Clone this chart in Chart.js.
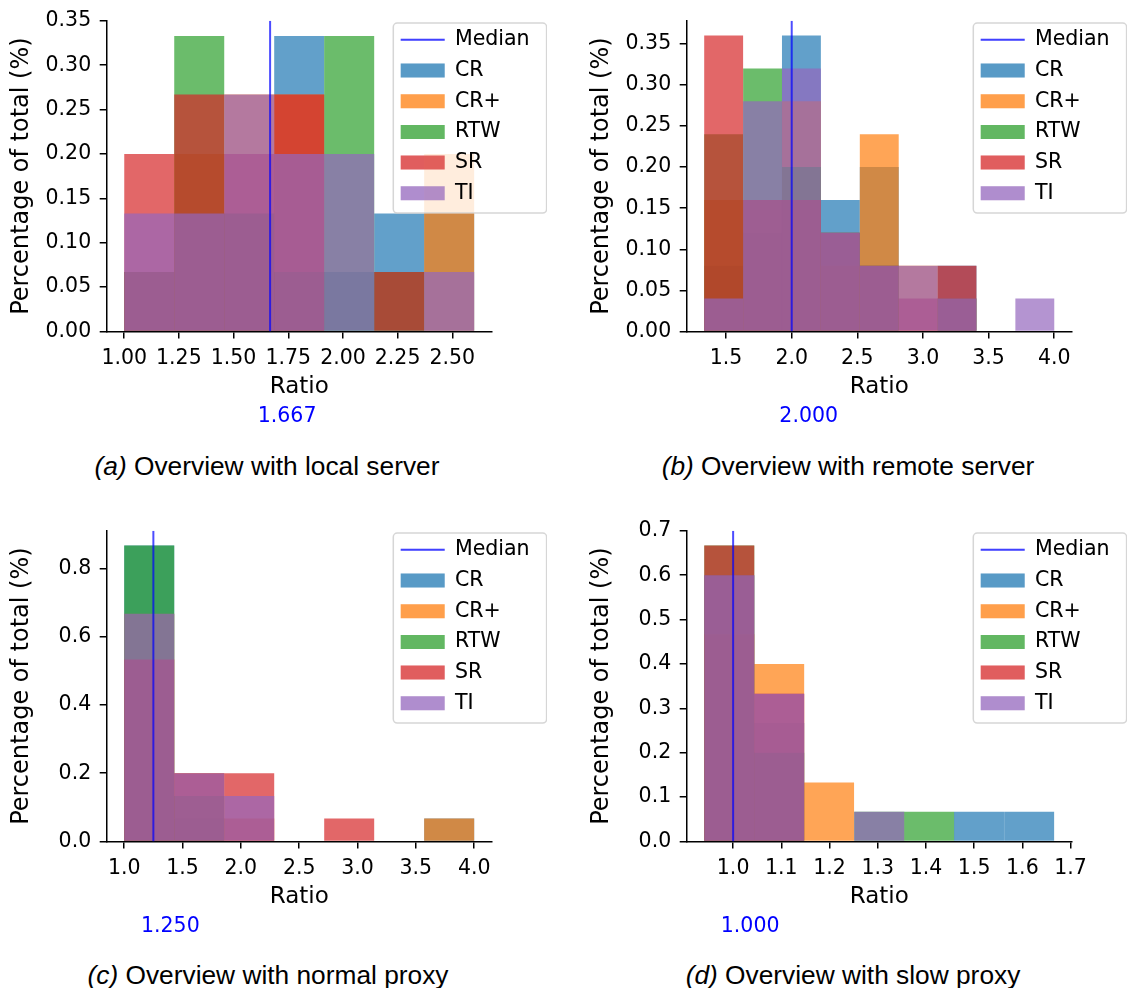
<!DOCTYPE html>
<html>
<head>
<meta charset="utf-8">
<title>Ratio overview</title>
<script src="https://cdn.jsdelivr.net/npm/chart.js@4.4.1/dist/chart.umd.min.js"></script>
<style>
  body { margin: 0; width: 1127px; height: 988px; position: relative; overflow: hidden; background: #fff; }
  canvas { position: absolute; }
  .cap { position: absolute; font-family: 'Liberation Sans', Arial, sans-serif; font-size: 26.3px; line-height: 30px; text-align: center; color: #000; white-space: nowrap; }
</style>
</head>
<body>
<canvas id="chartA" width="547" height="440" style="left:0;top:0"></canvas>
<canvas id="chartB" width="547" height="440" style="left:580px;top:0"></canvas>
<canvas id="chartC" width="547" height="440" style="left:0;top:510px"></canvas>
<canvas id="chartD" width="547" height="440" style="left:580px;top:510px"></canvas>
<div class="cap" style="left:0;top:451px;width:534px"><i>(a)</i> Overview with local server</div>
<div class="cap" style="left:580px;top:451px;width:536px"><i>(b)</i> Overview with remote server</div>
<div class="cap" style="left:0;top:960px;width:536px"><i>(c)</i> Overview with normal proxy</div>
<div class="cap" style="left:580px;top:960px;width:546px"><i>(d)</i> Overview with slow proxy</div>
<script>
'use strict';

//---------------------- data -------------------
let seriesNames = ['CR', 'CR+', 'RTW', 'SR', 'TI'];
let seriesColors = ['31,119,180', '255,127,14', '44,160,44', '214,39,40', '148,103,189'];

// (a) local server
let aEdges = [1.0, 1.229, 1.457, 1.686, 1.914, 2.143, 2.371, 2.6];
let aCR   = [0.067, 0.133, 0.133, 0.333, 0.067, 0.133, 0.133];
let aCRp  = [0.067, 0.2, 0.267, 0.267, 0, 0, 0.2];
let aRTW  = [0.067, 0.333, 0.133, 0.067, 0.333, 0.067, 0];
let aSR   = [0.2, 0.267, 0.2, 0.267, 0, 0.067, 0];
let aTI   = [0.133, 0.133, 0.267, 0.2, 0.2, 0, 0.067];
let aMedian = 1.667;
let aXTicks = [1.0, 1.25, 1.5, 1.75, 2.0, 2.25, 2.5];
let aYTicks = [0, 0.05, 0.1, 0.15, 0.2, 0.25, 0.3, 0.35];

// (b) remote server
let bEdges = [1.333, 1.630, 1.926, 2.222, 2.519, 2.815, 3.111, 3.407, 3.704, 4.0];
let bCR   = [0.08, 0.12, 0.36, 0.16, 0.2, 0, 0.08, 0, 0];
let bCRp  = [0.16, 0.16, 0.28, 0.08, 0.24, 0.08, 0, 0, 0];
let bRTW  = [0.24, 0.32, 0.2, 0.12, 0.08, 0, 0.04, 0, 0];
let bSR   = [0.36, 0.16, 0.16, 0.12, 0.08, 0.04, 0.08, 0, 0];
let bTI   = [0.04, 0.28, 0.32, 0.12, 0.08, 0.08, 0.04, 0, 0.04];
let bMedian = 2.0;
let bXTicks = [1.5, 2.0, 2.5, 3.0, 3.5, 4.0];
let bYTicks = [0, 0.05, 0.1, 0.15, 0.2, 0.25, 0.3, 0.35];

// (c) normal proxy
let cEdges = [1.0, 1.429, 1.857, 2.286, 2.714, 3.143, 3.571, 4.0];
let cCR   = [0.867, 0.067, 0, 0, 0, 0, 0.067];
let cCRp  = [0.667, 0.2, 0.067, 0, 0, 0, 0.067];
let cRTW  = [0.867, 0.133, 0, 0, 0, 0, 0];
let cSR   = [0.533, 0.2, 0.2, 0, 0.067, 0, 0];
let cTI   = [0.667, 0.2, 0.133, 0, 0, 0, 0];
let cMedian = 1.25;
let cXTicks = [1.0, 1.5, 2.0, 2.5, 3.0, 3.5, 4.0];
let cYTicks = [0, 0.2, 0.4, 0.6, 0.8];

// (d) slow proxy
let dEdges = [0.94, 1.044, 1.147, 1.251, 1.355, 1.458, 1.562, 1.666];
let dCR   = [0.6, 0.267, 0, 0, 0, 0.067, 0.067];
let dCRp  = [0.467, 0.4, 0.133, 0, 0, 0, 0];
let dRTW  = [0.667, 0.2, 0, 0.067, 0.067, 0, 0];
let dSR   = [0.667, 0.333, 0, 0, 0, 0, 0];
let dTI   = [0.6, 0.333, 0, 0.067, 0, 0, 0];
let dMedian = 1.0;
let dXTicks = [1.0, 1.1, 1.2, 1.3, 1.4, 1.5, 1.6, 1.7];
let dYTicks = [0, 0.1, 0.2, 0.3, 0.4, 0.5, 0.6, 0.7];

//---------------------- panels -------------------
let panels = [
  { id: 'chartA', edges: aEdges, values: [aCR, aCRp, aRTW, aSR, aTI], median: aMedian,
    xTicks: aXTicks, yTicks: aYTicks, xMin: 0.92, xMax: 2.68, yMax: 0.35, xDec: 2, yDec: 2 },
  { id: 'chartB', edges: bEdges, values: [bCR, bCRp, bRTW, bSR, bTI], median: bMedian,
    xTicks: bXTicks, yTicks: bYTicks, xMin: 1.2, xMax: 4.133, yMax: 0.378, xDec: 1, yDec: 2 },
  { id: 'chartC', edges: cEdges, values: [cCR, cCRp, cRTW, cSR, cTI], median: cMedian,
    xTicks: cXTicks, yTicks: cYTicks, xMin: 0.85, xMax: 4.15, yMax: 0.91, xDec: 1, yDec: 1 },
  { id: 'chartD', edges: dEdges, values: [dCR, dCRp, dRTW, dSR, dTI], median: dMedian,
    xTicks: dXTicks, yTicks: dYTicks, xMin: 0.9037, xMax: 1.7023, yMax: 0.7, xDec: 1, yDec: 1 }
];

Chart.defaults.font.family = "'DejaVu Sans', sans-serif";
Chart.defaults.color = '#000';

let legendFontSize = 20.5;
let legendPad = 10.2;

function binCenters(edges) {
  let c = [];
  for (let i = 0; i < edges.length - 1; i++) {
    c.push((edges[i] + edges[i + 1]) / 2);
  }
  return c;
}

// legend sits over the bars, with a matplotlib-like frame
let legendOnTop = {
  id: 'legendOnTop',
  afterLayout(chart) {
    let lg = chart.legend;
    let area = chart.chartArea;
    let fx = area.right - 98.4;
    lg.left = fx - 2.8;
    lg.top = area.top + 19 - legendPad - legendFontSize / 2;
    lg.right = fx + 165;
    lg.bottom = lg.top + 220;
    lg.width = lg.right - lg.left;
    lg.height = lg.bottom - lg.top;
  },
  afterDatasetsDraw(chart) {
    let area = chart.chartArea;
    let ctx = chart.ctx;
    let fx = area.right - 98.4;
    let fy = area.top + 2.3;
    ctx.save();
    ctx.beginPath();
    ctx.roundRect(fx, fy, 153.3, 190, 4);
    ctx.fillStyle = 'rgba(255,255,255,0.8)';
    ctx.fill();
    ctx.lineWidth = 1.5;
    ctx.strokeStyle = 'rgba(204,204,204,0.8)';
    ctx.stroke();
    ctx.restore();
    chart.legend.draw();
  }
};

function makeChart(p) {
  let centers = binCenters(p.edges);
  let binWidth = (p.edges[p.edges.length - 1] - p.edges[0]) / (p.edges.length - 1);

  let datasets = [{
    type: 'line',
    label: 'Median',
    data: [{ x: p.median, y: 0 }, { x: p.median, y: p.yMax }],
    borderColor: 'rgba(0,0,255,0.7)',
    borderWidth: 2,
    pointRadius: 0,
    pointBorderWidth: 2,
    order: 0
  }];

  seriesNames.forEach(function (name, i) {
    datasets.push({
      label: name,
      data: centers.map((c, j) => ({ x: c, y: p.values[i][j] })),
      backgroundColor: 'rgba(' + seriesColors[i] + ',0.7)',
      borderWidth: 0,
      inflateAmount: 0,
      grouped: false,
      barThickness: function (ctx) {
        let s = ctx.chart.scales.x;
        if (!s || !s.width) return undefined;
        return Math.abs(s.getPixelForValue(binWidth) - s.getPixelForValue(0));
      },
      order: seriesNames.length - i
    });
  });

  let medianText = {
    id: 'medianText',
    afterDraw(chart) {
      let ctx = chart.ctx;
      ctx.save();
      ctx.font = "20.5px 'DejaVu Sans'";
      ctx.fillStyle = '#0000ff';
      ctx.textAlign = 'center';
      ctx.textBaseline = 'alphabetic';
      ctx.fillText(p.median.toFixed(3), chart.scales.x.getPixelForValue(p.median) + 17, 421.5);
      ctx.restore();
    }
  };

  let ctx = document.getElementById(p.id).getContext('2d');
  return new Chart(ctx, {
    type: 'bar',
    data: { datasets: datasets },
    options: {
      responsive: false,
      animation: false,
      layout: { padding: { left: 0, top: 15, right: 55.3, bottom: 39.5 } },
      scales: {
        x: {
          type: 'linear',
          min: p.xMin,
          max: p.xMax,
          offset: false,
          grid: { display: true, drawOnChartArea: false, drawTicks: true, tickLength: 7, lineWidth: 1.5, tickWidth: 1.5, tickColor: '#000', offset: false },
          border: { display: true, color: '#000', width: 1.5 },
          ticks: { color: '#000', font: { size: 20.5 }, padding: 8, maxRotation: 0, autoSkip: false,
                   callback: v => Number(v).toFixed(p.xDec) },
          afterBuildTicks: s => { s.ticks = p.xTicks.map(v => ({ value: v })); },
          title: { display: true, text: 'Ratio', color: '#000', font: { size: 23 }, padding: 0 },
          afterFit: s => { s.height = 69; }
        },
        y: {
          type: 'linear',
          min: 0,
          max: p.yMax,
          grid: { display: true, drawOnChartArea: false, drawTicks: true, tickLength: 7, lineWidth: 1.5, tickWidth: 1.5, tickColor: '#000' },
          border: { display: true, color: '#000', width: 1.5 },
          ticks: { color: '#000', font: { size: 20.5 }, padding: 8.5,
                   callback: v => Number(v).toFixed(p.yDec) },
          afterBuildTicks: s => { s.ticks = p.yTicks.map(v => ({ value: v })); },
          title: { display: true, text: 'Percentage of total (%)', color: '#000', font: { size: 24 }, padding: { top: 7, bottom: 0 } },
          afterFit: s => { s.width = 106.7; }
        }
      },
      plugins: {
        tooltip: { enabled: false },
        legend: {
          position: 'chartArea',
          align: 'start',
          labels: {
            usePointStyle: true,
            pointStyleWidth: 44,
            boxHeight: 14,
            padding: legendPad,
            color: '#000',
            font: { size: legendFontSize },
            sort: (a, b) => a.datasetIndex - b.datasetIndex,
            generateLabels: function (chart) {
              let items = Chart.defaults.plugins.legend.labels.generateLabels(chart);
              items.forEach(function (it) {
                if (it.datasetIndex === 0) {
                  it.pointStyle = 'line';
                  it.lineWidth = 2;
                  it.strokeStyle = 'rgba(0,0,255,0.7)';
                } else {
                  it.pointStyle = 'rect';
                  it.lineWidth = 0;
                }
              });
              return items;
            }
          }
        }
      }
    },
    plugins: [legendOnTop, medianText]
  });
}

panels.forEach(makeChart);
</script>
</body>
</html>
